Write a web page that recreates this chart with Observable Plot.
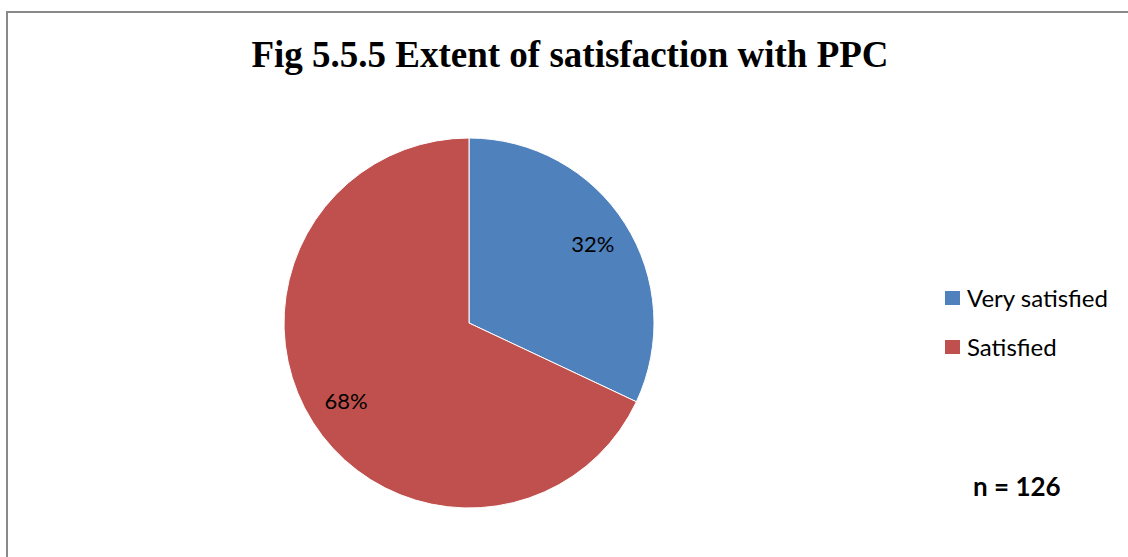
<!DOCTYPE html>
<html>
<head>
<meta charset="utf-8">
<script src="https://cdn.jsdelivr.net/npm/d3@7"></script>
<script src="https://cdn.jsdelivr.net/npm/@observablehq/plot@0.6"></script>
<style>
  html, body { margin: 0; padding: 0; background: #fff; }
  #wrap { position: relative; width: 1128px; height: 557px; overflow: hidden; }
  #frame { position: absolute; left: 6px; top: 11px; width: 1200px; height: 700px;
           border-left: 2px solid #898989; border-top: 2px solid #898989; }
  #title { position: absolute; left: 0; width: 1140px; top: 34px; text-align: center;
           font-family: "Liberation Serif", "Times New Roman", serif; font-weight: bold; font-size: 37px; color: #000; line-height: 1.15; }
  .leg { position: absolute; left: 945px; font-family: Lato, "Noto Sans", sans-serif; font-size: 24px; color: #000;
         display: flex; align-items: center; line-height: 1; height: 24px; }
  .sw { width: 15px; height: 14px; margin-right: 7px; }
  #n { position: absolute; left: 973px; top: 473px; font-family: Lato, "Noto Sans", sans-serif; font-weight: bold; font-size: 26px; line-height: 1; }
  #chart { position: absolute; left: 0; top: 0; }
</style>
</head>
<body>
<div id="wrap">
  <div id="frame"></div>
  <div id="chart"></div>
  <div id="title">Fig 5.5.5 Extent of satisfaction with PPC</div>
  <div id="legend"></div>
  <div id="n">n = 126</div>
</div>
<script>
const categories = ["Very satisfied", "Satisfied"];
const values = [32, 68];
const colors = ["#4F81BD", "#C0504D"];
const labels = ["32%", "68%"];

const data = categories.map((c, i) => ({category: c, value: values[i], color: colors[i], label: labels[i]}));
const pie = d3.pie().sort(null).value(d => d.value)(data);
const labelR = 0.79;
const textData = pie.map(p => {
  const a = (p.startAngle + p.endAngle) / 2;
  return {label: p.data.label, x: Math.sin(a) * labelR, y: Math.cos(a) * labelR};
});

const W = 1128, H = 557, cx = 469, cy = 323, R = 185;

function pieMark(index, scales, values_, dimensions) {
  const g = d3.create("svg:g");
  const x0 = scales.x(0), y0 = scales.y(0);
  const r = scales.x(1) - scales.x(0);
  const arc = d3.arc().innerRadius(0).outerRadius(r);
  g.attr("transform", `translate(${x0},${y0})`);
  g.selectAll("path").data(pie).join("path")
    .attr("d", arc)
    .attr("fill", d => d.data.color)
    .attr("stroke", "#fff")
    .attr("stroke-width", 1);
  return g.node();
}

const chart = Plot.plot({
  width: W, height: H,
  margin: 0,
  x: {domain: [-cx / R, (W - cx) / R], axis: null},
  y: {domain: [-(H - cy) / R, cy / R], axis: null},
  marks: [
    pieMark,
    Plot.text(textData, {x: "x", y: "y", text: "label", fontSize: 22, fill: "#000",
      fontFamily: "Lato, 'Noto Sans', sans-serif"})
  ]
});
chart.style.background = "transparent";
document.getElementById("chart").append(chart);

const leg = document.getElementById("legend");
const legTops = [286, 335];
categories.forEach((c, i) => {
  const d = document.createElement("div");
  d.className = "leg";
  d.style.top = legTops[i] + "px";
  d.innerHTML = `<span class="sw" style="background:${colors[i]}"></span><span>${c}</span>`;
  leg.append(d);
});
</script>
</body>
</html>
